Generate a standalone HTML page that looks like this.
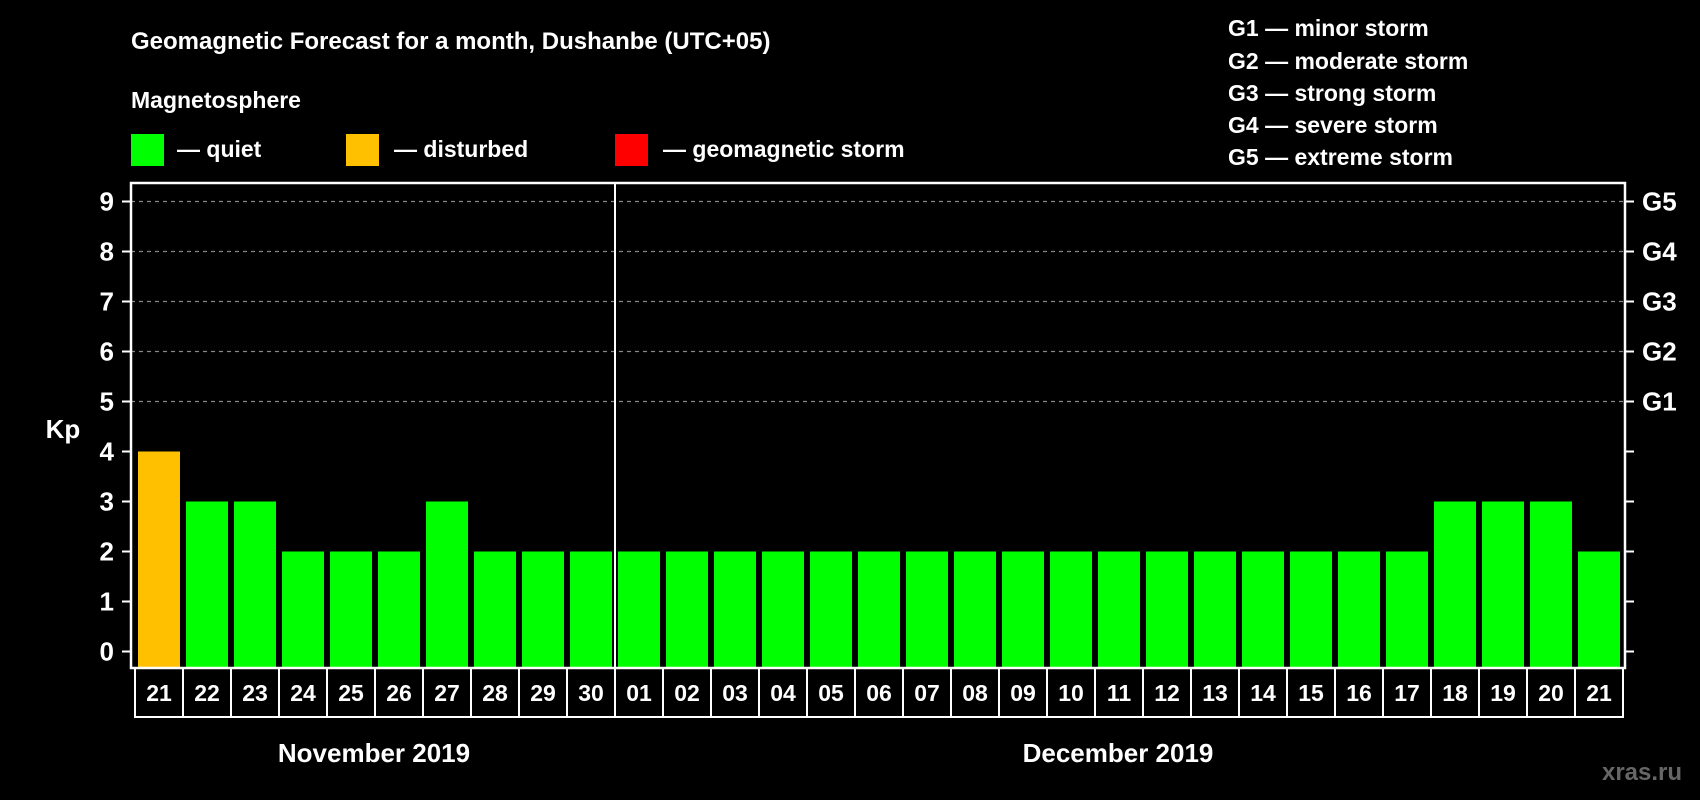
<!DOCTYPE html>
<html><head><meta charset="utf-8"><style>
html,body{margin:0;padding:0;background:#000;}
svg{display:block;font-family:"Liberation Sans",sans-serif;font-weight:bold;}
</style></head><body>
<svg width="1700" height="800" viewBox="0 0 1700 800">
<rect width="1700" height="800" fill="#000"/>
<text x="131" y="49" fill="#fff" font-size="24">Geomagnetic Forecast for a month, Dushanbe (UTC+05)</text>
<text x="131" y="108" fill="#fff" font-size="23">Magnetosphere</text>
<rect x="131" y="134" width="33" height="32" fill="#00ff00"/>
<text x="177" y="157" fill="#fff" font-size="23">— quiet</text>
<rect x="346" y="134" width="33" height="32" fill="#ffc000"/>
<text x="394" y="157" fill="#fff" font-size="23">— disturbed</text>
<rect x="615" y="134" width="33" height="32" fill="#ff0000"/>
<text x="663" y="157" fill="#fff" font-size="23">— geomagnetic storm</text>
<g fill="#fff" font-size="23">
<text x="1228" y="36">G1 — minor storm</text>
<text x="1228" y="69">G2 — moderate storm</text>
<text x="1228" y="101">G3 — strong storm</text>
<text x="1228" y="133">G4 — severe storm</text>
<text x="1228" y="165">G5 — extreme storm</text>
</g>
<g id="grid"></g>
<g id="bars"></g>
<rect x="131" y="183" width="1494" height="485" fill="none" stroke="#fff" stroke-width="2.5"/>
<line x1="615" y1="183" x2="615" y2="668" stroke="#fff" stroke-width="2"/>
<g id="axes"></g>
<g id="xlabels"></g>
<text x="63" y="438" fill="#fff" font-size="26" text-anchor="middle">Kp</text>
<text x="374" y="762" fill="#fff" font-size="26" text-anchor="middle">November 2019</text>
<text x="1118" y="762" fill="#fff" font-size="26" text-anchor="middle">December 2019</text>
<text x="1642" y="780" fill="#666" font-size="24" text-anchor="middle">xras.ru</text>
</svg>
<script>
const days = ["21","22","23","24","25","26","27","28","29","30","01","02","03","04","05","06","07","08","09","10","11","12","13","14","15","16","17","18","19","20","21"];
const kp = [4,3,3,2,2,2,3,2,2,2,2,2,2,2,2,2,2,2,2,2,2,2,2,2,2,2,2,3,3,3,2];
const yTicks = [0,1,2,3,4,5,6,7,8,9];
const gLabels = ["","","","","","G1","G2","G3","G4","G5"];
const NS="http://www.w3.org/2000/svg";
function y(v){return 651.5-50*v;}
function x(i){return 138+48*i;}
function mk(t,a,p){const e=document.createElementNS(NS,t);for(const k in a)e.setAttribute(k,a[k]);p.appendChild(e);return e;}
const grid=document.getElementById('grid'),bars=document.getElementById('bars'),axes=document.getElementById('axes'),xl=document.getElementById('xlabels');
yTicks.forEach((v,i)=>{
  if(v>=5){const l=mk('line',{x1:131,x2:1625,y1:y(v),y2:y(v),stroke:'#888','stroke-width':1.2,'stroke-dasharray':'4 4'},grid);
  
  }
  const t1=mk('line',{x1:122,x2:131,y1:y(v),y2:y(v),stroke:'#fff','stroke-width':2},axes);
  
  
  const t2=mk('line',{x1:1625,x2:1634,y1:y(v),y2:y(v),stroke:'#fff','stroke-width':2},axes);
  
  
  const tl=mk('text',{x:114,y:y(v)+9,fill:'#fff','font-size':26,'text-anchor':'end'},axes);tl.textContent=v;
  
  
  if(gLabels[i]){const g=mk('text',{x:1642,y:y(v)+9,fill:'#fff','font-size':26},axes);g.textContent=gLabels[i];
  
  }
});
kp.forEach((v,i)=>{
  const col=v>=5?'#ff0000':(v>=4?'#ffc000':'#00ff00');
  const top=y(v);
  const b=mk('rect',{x:x(i),y:top,width:42,height:668-top,fill:col},bars);
  
  
  const c=mk('rect',{x:135+48*i,y:668,width:48,height:49,fill:'none',stroke:'#fff','stroke-width':2},xl);
  
  
  const t=mk('text',{x:159+48*i,y:701,fill:'#fff','font-size':23,'text-anchor':'middle'},xl);t.textContent=days[i];
  
  
});
</script>
</body></html>
